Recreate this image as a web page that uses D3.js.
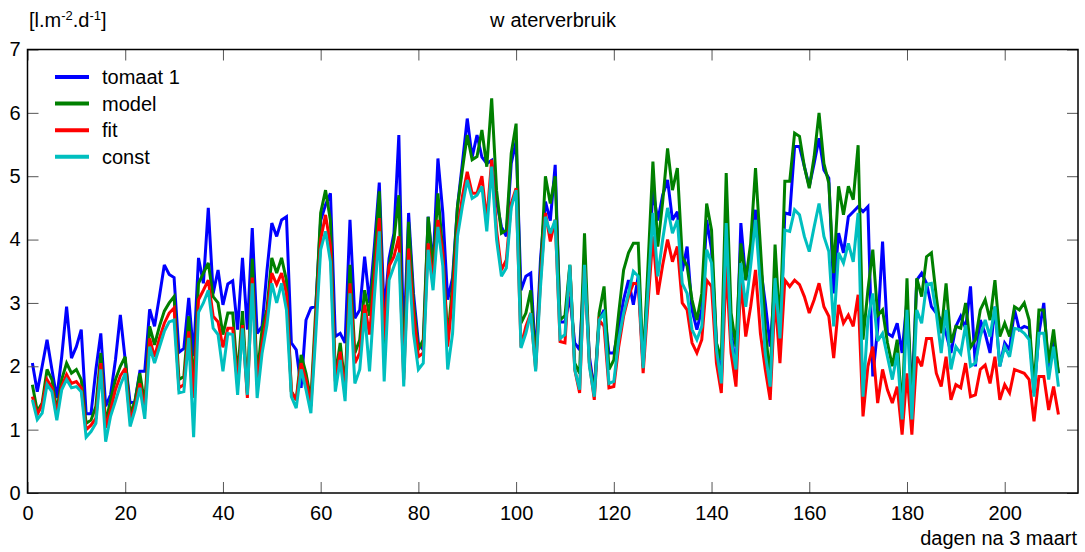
<!DOCTYPE html>
<html>
<head>
<meta charset="utf-8">
<script src="https://cdn.jsdelivr.net/npm/d3@7"></script>
<style>
  html, body { margin: 0; padding: 0; background: #fff; }
  svg { display: block; }
  text { font-family: "Liberation Sans", Arial, Helvetica, sans-serif; fill: #000; }
</style>
</head>
<body>
<svg id="chart" width="1085" height="552"></svg>
<script>
// ---------------- data ----------------
const firstDay = 1;
const tomaat1 = [
  2.05,1.6,2.0,2.42,1.95,1.5,2.15,2.94,2.13,2.31,
  2.58,1.25,1.25,1.95,2.52,1.37,1.55,2.1,2.81,2.1,
  1.42,1.45,1.92,1.92,2.9,2.63,3.1,3.6,3.45,3.4,
  2.22,2.28,3.08,2.16,3.71,3.31,4.5,3.15,3.52,2.97,
  3.3,3.35,2.58,3.71,2.58,4.18,2.52,2.63,3.5,4.26,
  4.05,4.31,4.36,2.37,2.26,1.66,2.73,2.92,2.95,4.3,
  4.55,4.73,2.47,2.52,2.37,4.31,2.76,2.89,3.73,3.0,
  3.9,4.9,2.84,3.7,4.1,5.65,2.3,4.42,3.15,2.37,
  2.26,4.36,3.58,5.28,4.42,3.05,3.4,4.52,5.2,5.91,
  5.3,5.65,5.3,5.2,5.25,4.6,4.2,4.05,5.2,5.55,
  3.2,3.42,3.47,2.1,3.7,4.6,4.3,5.18,2.7,2.7,
  3.1,2.37,2.26,3.6,2.15,1.63,2.73,2.89,2.21,2.21,
  2.6,3.05,3.36,2.97,3.42,2.0,3.4,4.78,4.3,4.7,
  4.94,4.31,4.44,3.5,3.89,2.89,2.58,2.9,4.31,3.84,
  2.37,1.79,4.26,2.58,1.89,4.26,3.36,3.8,4.47,3.58,
  3.0,2.31,3.36,2.3,4.42,4.4,5.47,5.47,5.15,4.84,
  5.2,5.6,5.1,4.97,3.15,4.1,3.79,4.36,4.44,4.52,
  4.44,4.52,1.84,2.6,3.97,2.52,2.47,2.68,2.21,3.05,
  1.5,3.36,3.47,3.31,2.94,2.84,2.73,2.52,2.21,2.63,
  2.79,2.6,3.26,2.0,2.73,2.52,2.21,2.94,2.0,2.37,
  2.26,2.89,2.58,2.63,2.6,1.58,2.52,3.0,1.89,2.42,1.89
];
const model = [
  1.71,1.29,1.42,1.95,1.79,1.3,1.79,2.05,1.89,1.95,
  1.79,1.1,1.15,1.37,2.21,1.1,1.47,1.79,2.0,2.15,
  1.25,1.45,1.89,1.4,2.63,2.34,2.63,2.87,3.0,3.1,
  1.79,1.84,2.79,1.7,3.31,3.47,3.63,3.1,3.0,2.5,
  2.84,2.84,1.84,2.87,1.58,3.7,1.84,2.58,2.9,3.71,
  3.47,3.71,3.36,1.6,1.47,2.18,1.89,1.47,2.9,4.42,
  4.78,4.3,1.84,2.37,1.68,3.6,2.21,2.42,3.2,2.8,
  3.7,4.76,2.31,3.58,4.0,4.7,1.9,4.28,3.0,2.26,
  2.42,4.36,3.5,4.73,3.8,2.42,3.3,4.52,5.1,5.65,
  5.26,5.31,5.73,5.15,6.23,4.78,4.1,4.15,5.36,5.83,
  2.68,2.84,3.2,2.05,3.5,5.0,4.57,5.0,2.73,2.8,
  3.6,2.05,1.89,4.1,2.05,1.58,2.84,3.26,1.95,2.1,
  2.84,3.52,3.79,3.94,3.94,2.0,3.6,5.23,3.89,4.6,
  5.44,4.78,5.13,3.73,3.58,3.05,2.73,3.15,4.57,4.15,
  2.37,2.1,5.05,2.84,2.31,3.94,3.36,3.94,5.13,3.89,
  2.6,1.79,3.92,2.6,4.92,4.92,5.68,5.63,5.15,4.81,
  5.31,6.0,5.2,4.89,3.47,4.84,4.39,4.84,4.63,5.49,
  2.42,3.2,3.84,2.8,2.89,2.37,2.0,2.42,1.26,3.39,
  1.26,3.39,3.1,3.73,3.79,3.1,2.52,3.31,2.37,2.63,
  2.6,3.0,2.3,2.42,2.89,3.05,2.73,3.36,2.47,2.68,
  2.47,2.94,2.89,3.0,2.73,1.63,2.89,2.89,2.05,2.58,1.89
];
const fit = [
  1.52,1.24,1.39,1.79,1.66,1.25,1.68,1.87,1.73,1.76,
  1.66,1.0,1.07,1.18,2.05,1.03,1.31,1.63,1.85,1.97,
  1.15,1.37,1.73,1.3,2.44,2.15,2.44,2.68,2.84,2.92,
  1.66,1.71,2.55,1.5,3.05,3.2,3.36,2.79,2.7,2.3,
  2.6,2.6,1.7,2.65,1.5,3.4,1.7,2.35,2.8,3.47,
  3.29,3.47,3.15,1.6,1.47,2.05,1.79,1.37,2.7,4.0,
  4.39,3.9,1.76,2.23,1.58,3.31,2.05,2.21,2.97,2.5,
  3.4,4.34,2.42,3.58,3.73,4.05,1.79,3.86,2.84,2.15,
  2.21,3.94,3.36,4.31,3.79,2.31,3.1,4.13,4.68,5.07,
  4.73,4.73,5.0,4.3,5.26,4.15,3.52,3.68,4.57,4.81,
  2.31,2.63,2.84,1.95,3.36,4.42,3.97,4.31,2.39,2.37,
  3.58,1.95,1.58,3.58,2.05,1.47,2.73,2.63,1.66,1.68,
  2.31,2.79,3.1,3.31,3.3,1.89,3.0,4.05,3.13,3.6,
  4.0,3.65,3.89,3.0,2.89,2.37,2.21,2.42,3.36,3.26,
  2.05,1.58,3.58,2.21,1.68,3.36,2.47,2.94,3.52,2.52,
  1.95,1.47,3.1,2.05,3.36,3.26,3.36,3.29,3.1,2.84,
  3.05,3.31,2.94,2.79,2.13,2.97,2.68,2.81,2.63,3.13,
  1.21,2.0,2.31,1.42,1.95,1.63,1.42,1.68,0.92,1.89,
  0.92,2.15,2.0,2.44,2.44,1.89,1.68,2.15,1.47,1.71,
  1.66,2.05,1.52,1.55,1.95,2.02,1.73,2.15,1.47,1.71,
  1.58,1.95,1.92,1.89,1.79,1.13,1.84,1.84,1.31,1.68,1.24
];
const constant = [
  1.47,1.16,1.26,1.71,1.6,1.15,1.63,1.79,1.66,1.68,
  1.6,0.88,0.97,1.1,1.95,0.81,1.21,1.45,1.7,1.89,
  1.05,1.31,1.66,1.17,2.31,2.05,2.3,2.55,2.7,2.73,
  1.58,1.6,2.45,0.88,2.85,3.0,3.2,2.6,2.5,1.92,
  2.52,2.5,1.55,2.6,1.55,3.31,1.5,2.2,2.65,3.31,
  3.0,3.31,2.89,1.52,1.34,1.95,1.63,1.26,2.5,3.84,
  4.13,3.65,1.6,2.1,1.45,3.15,1.73,1.95,2.84,1.92,
  3.1,4.13,1.76,3.36,3.58,3.79,1.68,3.68,2.52,1.95,
  2.05,3.84,3.2,4.2,3.58,1.95,2.52,4.05,4.52,4.94,
  4.65,4.7,4.84,4.13,5.15,4.0,3.42,3.55,4.5,4.78,
  2.29,2.52,2.84,1.92,3.26,4.36,4.1,4.31,2.44,2.5,
  3.6,1.95,1.63,3.6,2.0,1.52,2.73,2.84,1.73,1.76,
  2.42,2.84,3.15,3.5,3.42,1.97,3.2,4.42,3.42,4.0,
  4.5,4.1,4.31,3.31,3.15,2.58,2.42,2.63,3.84,3.63,
  2.26,1.73,4.26,2.42,1.95,3.63,2.94,3.58,4.31,3.26,
  2.2,1.68,3.39,2.44,4.15,4.13,4.47,4.39,4.05,3.81,
  4.2,4.57,4.05,3.81,2.63,3.79,3.63,3.94,3.65,4.42,
  1.52,2.73,3.15,2.4,2.52,2.15,1.79,2.21,1.16,2.89,
  1.16,2.89,2.68,3.29,3.31,2.84,2.21,2.89,1.95,2.31,
  2.2,2.65,2.0,2.05,2.47,2.73,2.47,2.94,2.0,2.31,
  2.15,2.6,2.58,2.52,2.42,1.52,2.52,2.52,1.79,2.31,1.68
];
const seriesNames = ["tomaat 1", "model", "fit", "const"];
const seriesColors = ["#0000ff", "#008000", "#ff0000", "#00bfbf"];
const xTicks = [0, 20, 40, 60, 80, 100, 120, 140, 160, 180, 200];
const yTicks = [0, 1, 2, 3, 4, 5, 6, 7];
const xDomain = [0, 215];
const yDomain = [0, 7];

// ---------------- layout ----------------
const svg = d3.select("#chart");
const L = 27.5, R = 1078, T = 49.5, B = 493;
const x = d3.scaleLinear().domain(xDomain).range([L, R]);
const y = d3.scaleLinear().domain(yDomain).range([B, T]);
const FONT = 20;

svg.append("rect").attr("width", 1085).attr("height", 552).attr("fill", "#fff");

// data lines
const allSeries = [tomaat1, model, fit, constant];
const line = d3.line().x((d, i) => x(firstDay + i)).y(d => y(d));
allSeries.forEach((s, k) => {
  svg.append("path")
    .datum(s)
    .attr("fill", "none")
    .attr("stroke", seriesColors[k])
    .attr("stroke-width", 3)
    .attr("stroke-linejoin", "miter")
    .attr("stroke-miterlimit", 3)
    .attr("d", line);
});

// axes (ticks inside, on all four sides)
const tickLen = 11;
const axB = d3.axisBottom(x).tickValues(xTicks).tickSize(-tickLen).tickPadding(13).tickFormat(d3.format("d"));
const axT = d3.axisTop(x).tickValues(xTicks).tickSize(-tickLen).tickFormat("");
const axL = d3.axisLeft(y).tickValues(yTicks).tickSize(-tickLen).tickPadding(7).tickFormat(d3.format("d"));
const axR = d3.axisRight(y).tickValues(yTicks).tickSize(-tickLen).tickFormat("");

function styleAxis(g) {
  g.select(".domain").remove();
  g.selectAll(".tick line").attr("stroke", "#555").attr("stroke-width", 1);
  g.selectAll(".tick text").attr("font-size", FONT).attr("font-family", "Liberation Sans, Arial, sans-serif").attr("fill", "#000");
}
svg.append("g").attr("transform", `translate(0,${B})`).call(axB).call(styleAxis);
svg.append("g").attr("transform", `translate(0,${T})`).call(axT).call(styleAxis);
svg.append("g").attr("transform", `translate(${L},0)`).call(axL).call(styleAxis);
svg.append("g").attr("transform", `translate(${R},0)`).call(axR).call(styleAxis);

// frame
svg.append("rect")
  .attr("x", L).attr("y", T).attr("width", R - L).attr("height", B - T)
  .attr("fill", "none").attr("stroke", "#000").attr("stroke-width", 1.5);

// title
const title = svg.append("text").attr("x", 490).attr("y", 27).attr("font-size", FONT);
title.append("tspan").text("w");
title.append("tspan").attr("dx", 6).text("aterverbruik");

// y unit label
const yl = svg.append("text").attr("x", 29).attr("y", 27).attr("font-size", FONT);
yl.append("tspan").text("[l.m");
yl.append("tspan").attr("dy", -7).attr("font-size", 13).text("-2");
yl.append("tspan").attr("dy", 7).text(".d");
yl.append("tspan").attr("dy", -7).attr("font-size", 13).text("-1");
yl.append("tspan").attr("dy", 7).text("]");

// x label
svg.append("text").attr("x", 1077).attr("y", 545).attr("text-anchor", "end")
  .attr("font-size", FONT).text("dagen na 3 maart");

// legend
const legY0 = 77, legDY = 26.6;
seriesNames.forEach((name, k) => {
  const yy = legY0 + k * legDY;
  svg.append("line").attr("x1", 55).attr("x2", 89).attr("y1", yy).attr("y2", yy)
    .attr("stroke", seriesColors[k]).attr("stroke-width", 4);
  svg.append("text").attr("x", 102).attr("y", yy).attr("dominant-baseline", "central")
    .attr("font-size", FONT).text(name);
});
</script>
</body>
</html>
